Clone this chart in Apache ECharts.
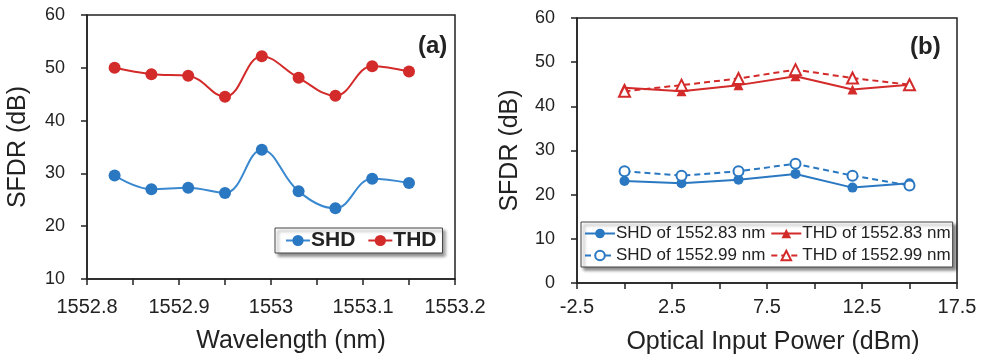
<!DOCTYPE html>
<html>
<head>
<meta charset="utf-8">
<script src="https://cdn.jsdelivr.net/npm/echarts@6/dist/echarts.min.js"></script>
<style>
  html, body { margin: 0; padding: 0; background: #fff; }
  #chart { width: 987px; height: 360px; }
</style>
</head>
<body>
<div id="chart"></div>
<script>
// (a) SFDR vs wavelength
var wavelength = [1552.83, 1552.87, 1552.91, 1552.95, 1552.99, 1553.03, 1553.07, 1553.11, 1553.15];
var shdA = [29.6, 27.0, 27.3, 26.3, 34.5, 26.6, 23.4, 29.0, 28.2];
var thdA = [50.0, 48.8, 48.5, 44.5, 52.2, 48.1, 44.7, 50.3, 49.3];

// (b) SFDR vs optical input power
var power = [0, 3, 6, 9, 12, 15];
var shd83 = [23.1, 22.6, 23.4, 24.7, 21.6, 22.6];
var thd83 = [44.2, 43.4, 44.8, 46.8, 43.8, 44.9];
var shd99 = [25.3, 24.3, 25.3, 27.0, 24.3, 22.1];
var thd99 = [43.4, 44.8, 46.3, 48.3, 46.4, 44.9];

var blue = '#2a78c2';
var red = '#d32a2a';
var font = 'Liberation Sans, Arial, sans-serif';

function pairs(xs, ys) {
    return xs.map(function (x, i) { return [x, ys[i]]; });
}

var axisCommon = {
    axisLine: { show: true, onZero: false, lineStyle: { color: '#222', width: 1.5 } },
    axisTick: { show: true, inside: false, length: 6, lineStyle: { color: '#222', width: 1.5 } },
    splitLine: { show: false }
};

var chart = echarts.init(document.getElementById('chart'));
var option = {
    animation: false,
    backgroundColor: '#fff',
    grid: [
        { left: 87, right: 532, top: 15, bottom: 81, show: true, borderColor: '#222', borderWidth: 1.5 },
        { left: 577, right: 30, top: 18, bottom: 75, show: true, borderColor: '#222', borderWidth: 1.5 }
    ],
    xAxis: [
        Object.assign({}, axisCommon, {
            gridIndex: 0, type: 'value', min: 1552.8, max: 1553.2, interval: 0.05,
            name: 'Wavelength (nm)', nameLocation: 'middle', nameGap: 50,
            nameTextStyle: { fontFamily: font, fontSize: 25, color: '#222', padding: [0, 0, 0, 40] },
            axisLabel: {
                margin: 18, fontFamily: font, fontSize: 20, color: '#222',
                formatter: function (v) {
                    var r = Math.round(v * 100);
                    return r % 10 === 0 ? String(parseFloat(v.toFixed(1))) : '';
                }
            }
        }),
        Object.assign({}, axisCommon, {
            gridIndex: 1, type: 'value', min: -2.5, max: 17.5, interval: 2.5,
            name: 'Optical Input Power (dBm)', nameLocation: 'middle', nameGap: 47,
            nameTextStyle: { fontFamily: font, fontSize: 25, color: '#222', padding: [0, 0, 0, 12] },
            axisLabel: {
                margin: 14, fontFamily: font, fontSize: 20, color: '#222',
                formatter: function (v) {
                    var r = Math.round((v + 2.5) * 10);
                    return r % 50 === 0 ? String(v) : '';
                }
            }
        })
    ],
    yAxis: [
        Object.assign({}, axisCommon, {
            gridIndex: 0, type: 'value', min: 10, max: 60, interval: 10,
            name: 'SFDR (dB)', nameLocation: 'middle', nameGap: 56,
            nameTextStyle: { fontFamily: font, fontSize: 25, color: '#222' },
            axisLabel: { margin: 22, fontFamily: font, fontSize: 18, color: '#222' }
        }),
        Object.assign({}, axisCommon, {
            gridIndex: 1, type: 'value', min: 0, max: 60, interval: 10,
            name: 'SFDR (dB)', nameLocation: 'middle', nameGap: 54,
            nameTextStyle: { fontFamily: font, fontSize: 25, color: '#222' },
            axisLabel: { margin: 22, fontFamily: font, fontSize: 18, color: '#222' }
        })
    ],
    legend: [
        {
            data: ['SHD', 'THD'],
            left: 275, top: 228,
            padding: [2, 6, 2, 10],
            itemGap: 12, itemWidth: 24, itemHeight: 14,
            backgroundColor: '#fff',
            borderColor: '#444', borderWidth: 1,
            shadowColor: 'rgba(0,0,0,0.45)', shadowBlur: 3, shadowOffsetX: 3, shadowOffsetY: 3,
            textStyle: { fontFamily: font, fontSize: 21, fontWeight: 'bold', color: '#222', padding: [0, 0, 0, -4] }
        },
        {
            data: ['SHD of 1552.83 nm', 'THD of 1552.83 nm', 'SHD of 1552.99 nm', 'THD of 1552.99 nm'],
            left: 581, top: 222, width: 372,
            padding: [3, 2, 3, 3],
            itemGap: 5, itemWidth: 30, itemHeight: 12,
            backgroundColor: '#fff',
            borderColor: '#444', borderWidth: 1,
            shadowColor: 'rgba(0,0,0,0.45)', shadowBlur: 3, shadowOffsetX: 3, shadowOffsetY: 3,
            textStyle: { fontFamily: font, fontSize: 17, color: '#222', padding: [0, 0, 0, -4] }
        }
    ],
    graphic: [
        { type: 'text', left: 418, top: 34, style: { text: '(a)', font: 'bold 24px Liberation Sans, Arial', fill: '#222' } },
        { type: 'text', left: 910, top: 35, style: { text: '(b)', font: 'bold 24px Liberation Sans, Arial', fill: '#222' } }
    ],
    series: [
        {
            name: 'SHD', type: 'line', xAxisIndex: 0, yAxisIndex: 0, smooth: 0.4,
            data: pairs(wavelength, shdA),
            symbol: 'circle', symbolSize: 12,
            itemStyle: { color: blue },
            lineStyle: { color: '#3a88d0', width: 2 }
        },
        {
            name: 'THD', type: 'line', xAxisIndex: 0, yAxisIndex: 0, smooth: 0.4,
            data: pairs(wavelength, thdA),
            symbol: 'circle', symbolSize: 12,
            itemStyle: { color: red },
            lineStyle: { color: red, width: 2 }
        },
        {
            name: 'SHD of 1552.83 nm', type: 'line', xAxisIndex: 1, yAxisIndex: 1,
            data: pairs(power, shd83),
            symbol: 'circle', symbolSize: 10,
            itemStyle: { color: blue },
            lineStyle: { color: blue, width: 2 }
        },
        {
            name: 'THD of 1552.83 nm', type: 'line', xAxisIndex: 1, yAxisIndex: 1,
            data: pairs(power, thd83),
            symbol: 'triangle', symbolSize: 10,
            itemStyle: { color: red },
            lineStyle: { color: red, width: 2 }
        },
        {
            name: 'SHD of 1552.99 nm', type: 'line', xAxisIndex: 1, yAxisIndex: 1,
            data: pairs(power, shd99),
            symbol: 'emptyCircle', symbolSize: 10,
            itemStyle: { color: blue, borderWidth: 1.5 },
            lineStyle: { color: blue, width: 2, type: [6, 4] }
        },
        {
            name: 'THD of 1552.99 nm', type: 'line', xAxisIndex: 1, yAxisIndex: 1,
            data: pairs(power, thd99),
            symbol: 'emptyTriangle', symbolSize: 11,
            itemStyle: { color: red, borderWidth: 1.5 },
            lineStyle: { color: red, width: 2, type: [6, 4] }
        }
    ]
};
chart.setOption(option);
</script>
</body>
</html>
